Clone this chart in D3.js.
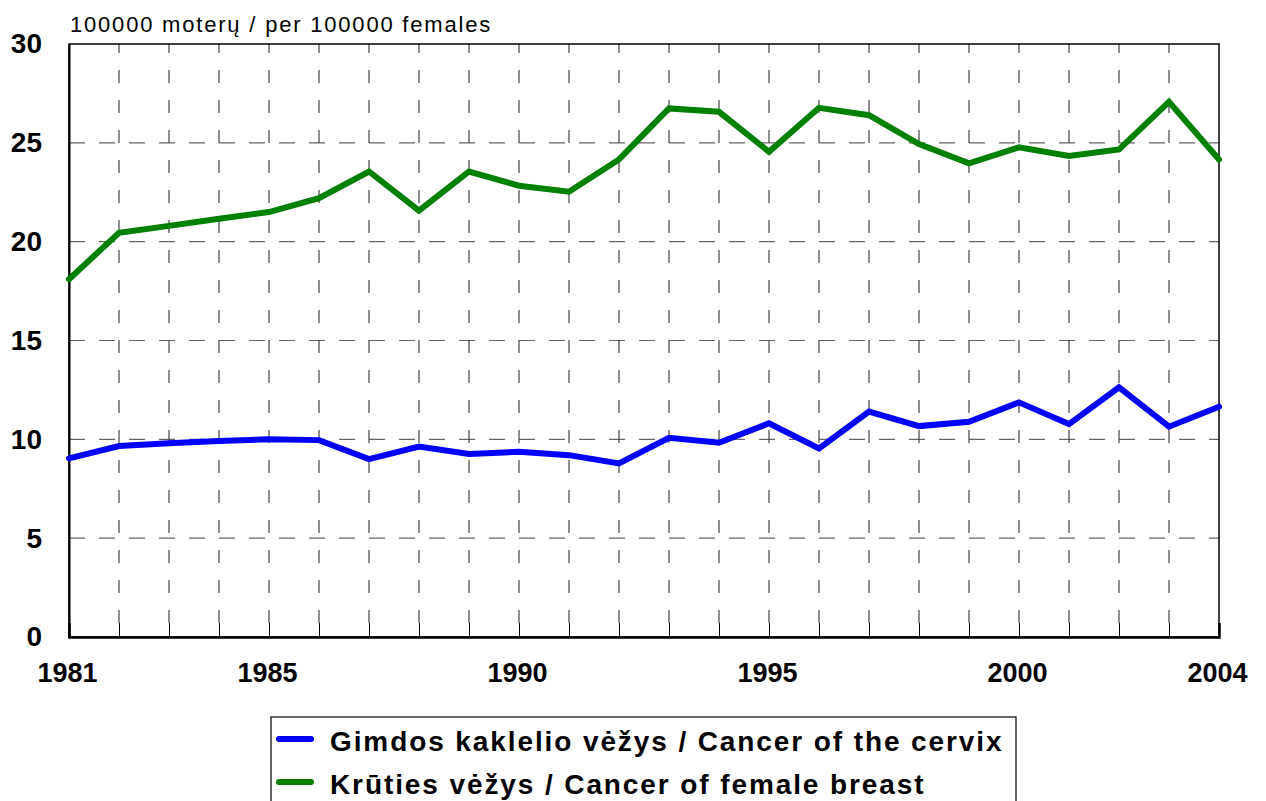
<!DOCTYPE html>
<html>
<head>
<meta charset="utf-8">
<script src="https://cdn.jsdelivr.net/npm/d3@7"></script>
<style>
  body { margin: 0; background: #fff; }
  text { font-family: "Liberation Sans", Arial, sans-serif; }
</style>
</head>
<body>
<script>
// values
const years = d3.range(1981, 2005);
const cervix = [9.04, 9.66, 9.8, 9.91, 10.0, 9.96, 9.0, 9.63, 9.26, 9.37, 9.2, 8.78,
  10.08, 9.83, 10.81, 9.54, 11.4, 10.67, 10.89, 11.87, 10.77, 12.63, 10.64, 11.65];
const breast = [18.1, 20.45, 20.8, 21.16, 21.5, 22.2, 23.55, 21.57, 23.55, 22.83, 22.53, 24.16,
  26.74, 26.57, 24.55, 26.77, 26.4, 24.94, 23.96, 24.77, 24.33, 24.67, 27.08, 24.16];
const xLabels = [1981, 1985, 1990, 1995, 2000, 2004];
const yTicks = [0, 5, 10, 15, 20, 25, 30];
const seriesNames = ['Gimdos kaklelio vėžys / Cancer of the cervix', 'Krūties vėžys / Cancer of female breast'];
const seriesColors = ['#0000ff', '#008000'];
const unitLabel = '100000 moterų / per 100000 females';

const width = 1266, height = 801;
const margin = {left: 69, right: 47, top: 44, bottom: 164};
const w = width - margin.left - margin.right;
const h = height - margin.top - margin.bottom;

const svg = d3.select('body').append('svg').attr('width', width).attr('height', height);
const g = svg.append('g').attr('transform', `translate(${margin.left},${margin.top})`);

const x = d3.scaleLinear().domain([1981, 2004]).range([0, w]);
const y = d3.scaleLinear().domain([0, 30]).range([h, 0]);

// grid
g.append('g').selectAll('line').data(yTicks.slice(1, -1)).join('line')
  .attr('x1', 0).attr('x2', w)
  .attr('y1', d => y(d)).attr('y2', d => y(d))
  .attr('stroke', '#666').attr('stroke-width', 1.2)
  .attr('stroke-dasharray', '16,14');
g.append('g').selectAll('line').data(years.slice(1, -1)).join('line')
  .attr('x1', d => x(d)).attr('x2', d => x(d))
  .attr('y1', 0).attr('y2', h)
  .attr('stroke', '#444').attr('stroke-width', 1.2)
  .attr('stroke-dasharray', '13,17').attr('stroke-dashoffset', 4);

// frame
g.append('rect').attr('width', w).attr('height', h)
  .attr('fill', 'none').attr('stroke', '#000').attr('stroke-width', 1.5);

// x axis
const xAxis = d3.axisBottom(x).tickValues(years).tickSize(-14).tickFormat(d => xLabels.includes(d) ? d : '');
const xg = g.append('g').attr('transform', `translate(0,${h})`).call(xAxis);
xg.select('.domain').attr('stroke', '#000').attr('stroke-width', 2.5);
xg.selectAll('.tick line').attr('stroke', '#000');
xg.selectAll('.tick text').attr('y', 45).attr('dy', 0).attr('x', -2)
  .attr('font-size', 27).attr('font-weight', 'bold').attr('fill', '#000')
  .style('font-family', '"Liberation Sans", Arial, sans-serif');

// y axis
const yAxis = d3.axisLeft(y).tickValues(yTicks).tickSize(0).tickPadding(27);
const yg = g.append('g').call(yAxis);
yg.select('.domain').attr('stroke', '#000').attr('stroke-width', 2);
yg.selectAll('.tick text').attr('font-size', 28).attr('font-weight', 'bold').attr('fill', '#000')
  .style('font-family', '"Liberation Sans", Arial, sans-serif');

// lines
const line = d3.line().x((d, i) => x(years[i])).y(d => y(d));
[cervix, breast].forEach((s, i) => {
  g.append('path').attr('d', line(s)).attr('fill', 'none')
    .attr('stroke', seriesColors[i]).attr('stroke-width', 6)
    .attr('stroke-linejoin', 'miter').attr('stroke-linecap', 'round');
});

// unit label
svg.append('text').attr('x', 70).attr('y', 32)
  .attr('font-size', 22).attr('letter-spacing', 1.8).text(unitLabel);

// legend
const lg = svg.append('g').attr('transform', 'translate(271,717)');
lg.append('rect').attr('width', 745).attr('height', 100)
  .attr('fill', '#fff').attr('stroke', '#000').attr('stroke-width', 1.2);
seriesNames.forEach((name, i) => {
  const cy = 22 + i * 43;
  lg.append('line').attr('x1', 8).attr('x2', 40).attr('y1', cy).attr('y2', cy)
    .attr('stroke', seriesColors[i]).attr('stroke-width', 6).attr('stroke-linecap', 'round');
  lg.append('text').attr('x', 59).attr('y', cy + 12)
    .attr('font-size', 28).attr('font-weight', 'bold').attr('letter-spacing', 1.9).text(name);
});
</script>
</body>
</html>
